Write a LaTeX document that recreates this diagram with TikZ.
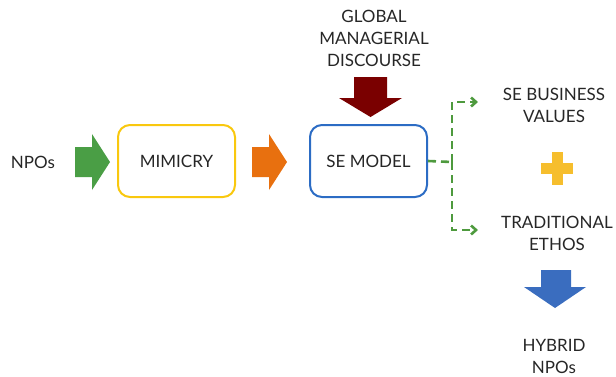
\documentclass[tikz,border=0pt]{standalone}
\usepackage{fontspec}
\setmainfont{Lato}
\usepackage{tikz}
\usetikzlibrary{arrows.meta}

\definecolor{npogreen}{HTML}{4A9E45}
\definecolor{mimorange}{HTML}{E8700F}
\definecolor{discred}{HTML}{7A0000}
\definecolor{hybblue}{HTML}{3A6DBF}
\definecolor{boxyellow}{HTML}{F9C80E}
\definecolor{boxblue}{HTML}{2C6CC4}
\definecolor{plusyellow}{HTML}{F6BE2D}
\definecolor{dashgreen}{HTML}{4E9A3E}

\tikzset{
	lbl/.style = {align=center, font=\fontsize{17}{22}\selectfont, text=black!85},
	stagebox/.style = {lbl, draw, line width=2pt, rounded corners=12pt, minimum width=117pt, minimum height=72pt},
	dashline/.style = {dashgreen, line width=2.6pt, dash pattern=on 8pt off 5pt}
}

\begin{document}
\begin{tikzpicture}[x=1pt, y=-1pt]
	\useasboundingbox (0,0) rectangle (616,376);
	\node [lbl] (npos) at (33, 162) {NPOs};
	\node [stagebox, draw=boxyellow] (mimicry) at (176.5, 161) {MIMICRY};
	\node [stagebox, draw=boxblue] (semodel) at (368.5, 161) {SE MODEL};
	\node [lbl] (discourse) at (374, 38) {GLOBAL\\MANAGERIAL\\DISCOURSE};
	\node [lbl] (values) at (554, 105) {SE BUSINESS\\VALUES};
	\node [lbl] (ethos) at (557, 233) {TRADITIONAL\\ETHOS};
	\node [lbl] (hybrid) at (554, 356) {HYBRID\\NPOs};
	% block arrows
	\fill [npogreen] (75,147) -- (92,147) -- (92,134) -- (110,162) -- (92,190) -- (92,177) -- (75,177) -- cycle;
	\fill [mimorange] (252,147) -- (269,147) -- (269,134) -- (287,162) -- (269,190) -- (269,177) -- (252,177) -- cycle;
	\fill [discred] (354,77) -- (387,77) -- (387,98) -- (402,98) -- (370.5,117) -- (339,98) -- (354,98) -- cycle;
	\fill [hybblue] (541,270) -- (571,270) -- (571,287) -- (586,287) -- (555,308) -- (524,287) -- (541,287) -- cycle;
	% plus
	\fill [plusyellow] (541,163) rectangle (573,174);
	\fill [plusyellow] (551.5,152) rectangle (562.5,185);
	% split
	\coordinate (split) at (452, 162);
	\coordinate (topend) at (478, 102);
	\coordinate (botend) at (478, 230);
	\draw [dashline] (semodel.east) -- (split);
	\draw [dashline, -{Straight Barb[length=5pt, width=9pt]}] (split) |- (topend);
	\draw [dashline, -{Straight Barb[length=5pt, width=9pt]}] (split) |- (botend);
\end{tikzpicture}
\end{document}
